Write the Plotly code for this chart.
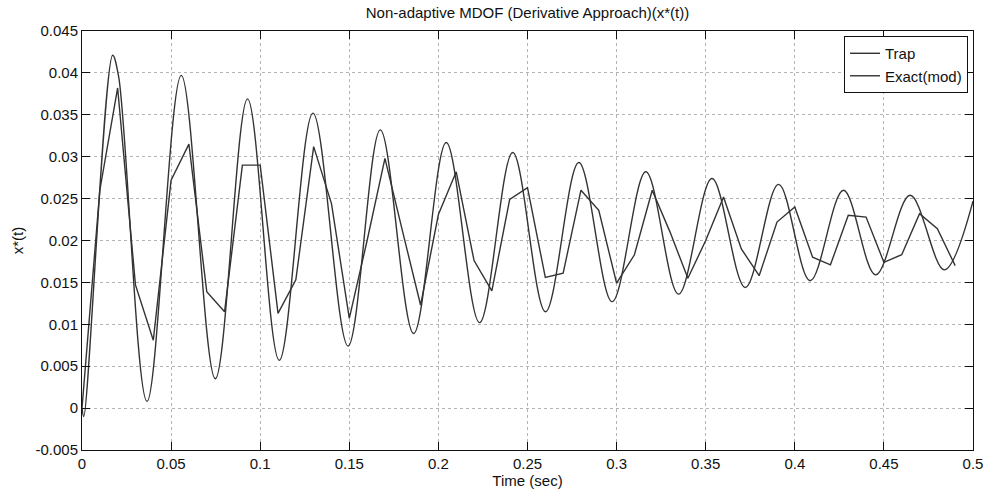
import plotly.graph_objects as go

# ---- data ----
# "Trap": sampled every 0.01 s (piecewise linear)
trap_t = [0.00, 0.01, 0.02, 0.03, 0.04, 0.05, 0.06, 0.07, 0.08, 0.09,
          0.10, 0.11, 0.12, 0.13, 0.14, 0.15, 0.16, 0.17, 0.18, 0.19,
          0.20, 0.21, 0.22, 0.23, 0.24, 0.25, 0.26, 0.27, 0.28, 0.29,
          0.30, 0.31, 0.32, 0.33, 0.34, 0.35, 0.36, 0.37, 0.38, 0.39,
          0.40, 0.41, 0.42, 0.43, 0.44, 0.45, 0.46, 0.47, 0.48, 0.49]
trap_x = [0.0000, 0.0260, 0.0382, 0.0147, 0.0081, 0.0272, 0.0315, 0.0139, 0.0115, 0.0290,
          0.0290, 0.0113, 0.0153, 0.0312, 0.0244, 0.0107, 0.0200, 0.0298, 0.0210, 0.0123,
          0.0231, 0.0282, 0.0176, 0.0140, 0.0249, 0.0263, 0.0156, 0.0161, 0.0260, 0.0236,
          0.0149, 0.0183, 0.0260, 0.0210, 0.0155, 0.0200, 0.0252, 0.0190, 0.0158, 0.0222,
          0.0240, 0.0180, 0.0171, 0.0230, 0.0228, 0.0174, 0.0183, 0.0232, 0.0214, 0.0170]

# "Exact(mod)": smooth damped oscillation (extrema)
exact_t = [0.0, 0.001, 0.0172, 0.0206, 0.0365, 0.0557, 0.0748, 0.0929, 0.1107, 0.1296,
           0.1493, 0.1674, 0.1861, 0.2044, 0.2231, 0.2417, 0.2601, 0.2788, 0.2975, 0.3164,
           0.3348, 0.3535, 0.3722, 0.3909, 0.4086, 0.4273, 0.4454, 0.4647, 0.4839, 0.5]
exact_x = [0.0, -0.0010, 0.0421, 0.0395, 0.0008, 0.0397, 0.0035, 0.0369, 0.0057, 0.0352,
           0.0074, 0.0332, 0.0089, 0.0317, 0.0102, 0.0305, 0.0115, 0.0293, 0.0127, 0.0282,
           0.0136, 0.0274, 0.0144, 0.0267, 0.0152, 0.0260, 0.0159, 0.0254, 0.0165, 0.0247]

x_tickvals = [0, 0.05, 0.1, 0.15, 0.2, 0.25, 0.3, 0.35, 0.4, 0.45, 0.5]
x_ticktext = ["0", "0.05", "0.1", "0.15", "0.2", "0.25", "0.3", "0.35", "0.4", "0.45", "0.5"]
y_tickvals = [-0.005, 0, 0.005, 0.01, 0.015, 0.02, 0.025, 0.03, 0.035, 0.04, 0.045]
y_ticktext = ["-0.005", "0", "0.005", "0.01", "0.015", "0.02", "0.025", "0.03", "0.035", "0.04", "0.045"]

FONT = "Liberation Sans, Arial, sans-serif"
LINE = "#333333"
TXT = "#111"

fig = go.Figure()
fig.add_trace(go.Scatter(x=trap_t, y=trap_x, mode="lines", name="Trap",
                         line=dict(color=LINE, width=1.4)))
fig.add_trace(go.Scatter(x=exact_t, y=exact_x, mode="lines", name="Exact(mod)",
                         line=dict(color=LINE, width=1.4, shape="spline", smoothing=1)))

axis_common = dict(
    showline=True, linecolor=TXT, linewidth=1, mirror="ticks",
    ticks="inside", ticklen=8, tickcolor=TXT, tickwidth=1,
    showgrid=True, gridcolor="#b4b4b4", griddash="dot", gridwidth=1,
    zeroline=False, automargin=False,
    tickfont=dict(family=FONT, size=15, color=TXT),
)

fig.update_xaxes(range=[0, 0.5], tickmode="array", tickvals=x_tickvals, ticktext=x_ticktext,
                 title=dict(text="Time (sec)", font=dict(family=FONT, size=15, color=TXT), standoff=4),
                 **axis_common)
fig.update_yaxes(range=[-0.005, 0.045], tickmode="array", tickvals=y_tickvals, ticktext=y_ticktext,
                 title=dict(text="x*(t)", font=dict(family=FONT, size=15, color=TXT), standoff=8),
                 **axis_common)

fig.update_layout(
    width=987, height=492,
    margin=dict(l=82, r=14, t=31, b=42, autoexpand=False),
    paper_bgcolor="white", plot_bgcolor="white",
    font=dict(family=FONT, size=15, color=TXT),
    title=dict(text="Non-adaptive MDOF (Derivative Approach)(x*(t))",
               font=dict(family=FONT, size=15, color=TXT),
               x=0.5, xref="paper", xanchor="center",
               y=1 - 13 / 492, yref="container", yanchor="middle"),
    legend=dict(x=0.9944, y=0.988, xanchor="right", yanchor="top",
                bgcolor="white", bordercolor=TXT, borderwidth=1,
                font=dict(family=FONT, size=15, color=TXT),
                tracegroupgap=0, itemwidth=30),
    showlegend=True,
)

fig.write_html("out.html")
